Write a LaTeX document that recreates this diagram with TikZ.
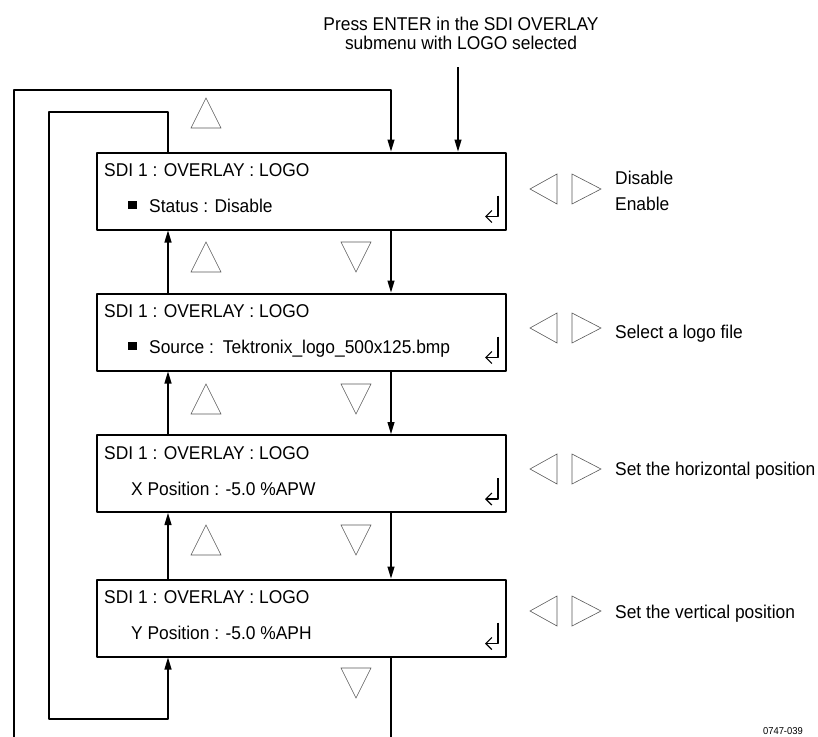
\documentclass[tikz,border=0pt]{standalone}
\usepackage{fontspec}
\setmainfont{Liberation Sans}[FakeStretch=0.94]
\usetikzlibrary{arrows.meta}

\tikzset{
  menubox/.style={draw,line width=2pt,minimum width=409pt,minimum height=77pt,inner sep=0pt},
  link/.style={line width=1.1pt},
  arr/.style={link,-{Triangle[length=12pt,width=7pt]}},
  keytri/.style={draw=black!65,line width=0.6pt,line join=miter},
  retline/.style={line width=1.2pt,-{Straight Barb[length=6pt,width=12pt]}},
  lbl/.style={anchor=base west,inner sep=0pt,font=\fontsize{18.5}{20}\selectfont},
}

\begin{document}
\begin{tikzpicture}[x=1pt,y=-1pt,line join=round]
\useasboundingbox (0,0) rectangle (818,736);

% menu boxes
\node[menubox] (b1) at (301.5,191) {};
\node[menubox] (b2) at (301.5,332) {};
\node[menubox] (b3) at (301.5,473.5) {};
\node[menubox] (b4) at (301.5,618) {};

% box texts
\foreach \b in {b1,b2,b3,b4}
  \node[lbl] (\b-title) at ([shift={(8,25)}]\b.north west) {SDI 1 : OVERLAY : LOGO};
\node[lbl] (b1-val) at ([shift={(32,61)}]b1.north west) {\rule[4pt]{9pt}{8pt}\hspace{12pt}Status : Disable};
\node[lbl] (b2-val) at ([shift={(32,61)}]b2.north west) {\rule[4pt]{9pt}{8pt}\hspace{12pt}Source :\hspace{9pt}Tektronix\_logo\_500x125.bmp};
\node[lbl] (b3-val) at ([shift={(35,61)}]b3.north west) {X Position : -5.0 \%APW};
\node[lbl] (b4-val) at ([shift={(35,61)}]b4.north west) {Y Position : -5.0 \%APH};

% enter symbols
\foreach \b in {b1,b2,b3,b4}
  \draw[retline] ([shift={(-9,-35)}]\b.south east) |- ++(-13,21);

% up and down keys
\foreach \y in {113,257,399,540}
  \draw[keytri] (191,\y+15) -- (221,\y+15) -- (206,\y-15) -- cycle;
\foreach \y in {257,399,540,683}
  \draw[keytri] (341,\y-15) -- (371,\y-15) -- (356,\y+15) -- cycle;

% left and right keys
\foreach \y in {189,328,469,611} {
  \draw[keytri] (530,\y) -- (557,\y-15) -- (557,\y+15) -- cycle;
  \draw[keytri] (572,\y-15) -- (601,\y) -- (572,\y+15) -- cycle;
}

% hints
\node[lbl] (hint1) at (615,184) {Disable};
\node[lbl] (hint1b) at (615,210) {Enable};
\node[lbl] (hint2) at (615,338) {Select a logo file};
\node[lbl] (hint3) at (615,475) {Set the horizontal position};
\node[lbl] (hint4) at (615,618) {Set the vertical position};

% entry
\node[lbl,anchor=base] (cmd1) at (461,30) {Press ENTER in the SDI OVERLAY};
\node[lbl,anchor=base] (cmd2) at (461,49) {submenu with LOGO selected};
\coordinate (entry) at (458,67);
\draw[arr] (entry) -- (entry |- b1.north);

% arrows between boxes
\coordinate (dnx) at (391,0);
\coordinate (upx) at (168,0);
\foreach \a/\b in {b1/b2,b2/b3,b3/b4} {
  \draw[arr] (\a.south -| dnx) -- (\b.north -| dnx);
  \draw[arr] (\b.north -| upx) -- (\a.south -| upx);
}

% wrap around
\coordinate (wrapA) at (49,112);
\coordinate (wrapB) at (49,719);
\draw[arr] (b1.north -| upx) |- (wrapA) -- (wrapB) -| (b4.south -| upx);
\coordinate (wrapC) at (14,760);
\coordinate (wrapD) at (14,90);
\draw[arr] (b4.south -| dnx) |- (wrapC) -- (wrapD) -| (b1.north -| dnx);

% figure number
\node[anchor=south east,inner sep=0pt,font=\fontsize{10}{10}\selectfont] (fignum) at (803,735) {0747-039};

\end{tikzpicture}
\end{document}
